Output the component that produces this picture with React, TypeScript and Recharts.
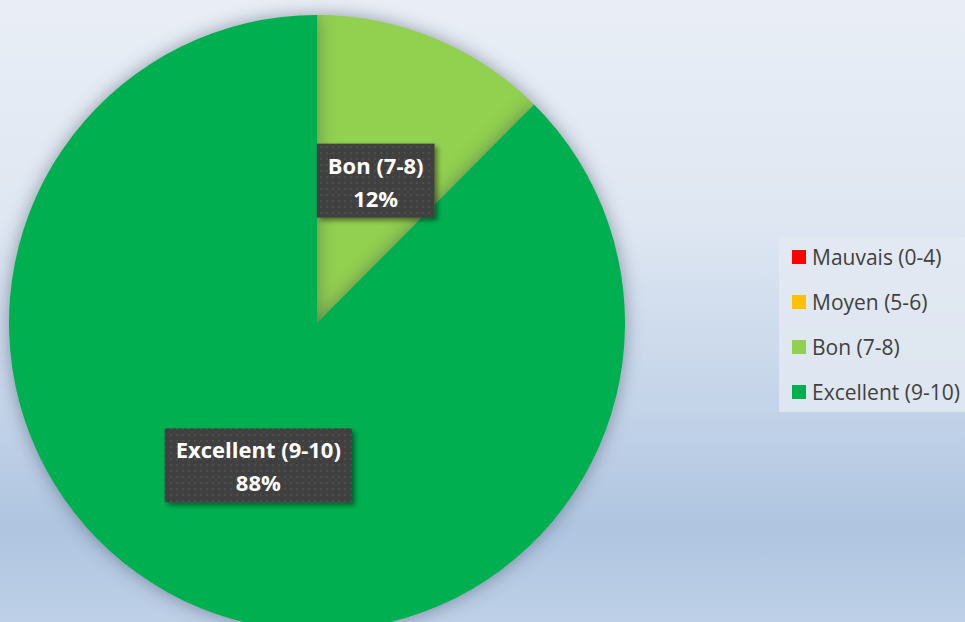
import { PieChart, Pie, Cell, Legend } from 'recharts';

const CATEGORIES = ['Mauvais (0-4)', 'Moyen (5-6)', 'Bon (7-8)', 'Excellent (9-10)'];
const SHARES = [0, 0, 12.45, 87.55];
const COLORS = ['#ff0000', '#ffc000', '#92d050', '#00b050'];

const data = CATEGORIES.map((name, i) => ({ name, value: SHARES[i] }));

const FONT = 'Open Sans';
const LABEL_SIZE = 22;
let ctx: CanvasRenderingContext2D | null = null;
const measure = (t: string) => {
  if (!ctx) ctx = document.createElement('canvas').getContext('2d');
  if (!ctx) return t.length * 11;
  ctx.font = `bold ${LABEL_SIZE}px "${FONT}"`;
  return ctx.measureText(t).width;
};

const RAD = Math.PI / 180;

const renderLabel = (p: any) => {
  if (!p.value) return null;
  const r = p.outerRadius * 0.5;
  const x = p.cx + r * Math.cos(-p.midAngle * RAD);
  const y = p.cy + r * Math.sin(-p.midAngle * RAD);
  const line2 = `${Math.round(p.percent * 100)}%`;
  const w = Math.max(measure(p.name), measure(line2)) + 22;
  const h = 74;
  return (
    <g key={p.name}>
      <rect x={x - w / 2} y={y - h / 2} width={w} height={h} fill="url(#dots)" filter="url(#boxShadow)" />
      <text x={x} y={y - 7} textAnchor="middle" fill="#fff" fontFamily={FONT} fontSize={LABEL_SIZE} fontWeight="bold">{p.name}</text>
      <text x={x} y={y + 26} textAnchor="middle" fill="#fff" fontFamily={FONT} fontSize={LABEL_SIZE} fontWeight="bold">{line2}</text>
    </g>
  );
};

const renderLegend = () => (
  <div style={{ background: 'rgba(228,234,243,0.8)', padding: '0 0 0 13px', width: 186, height: 175, boxSizing: 'border-box', overflow: 'hidden' }}>
    <div style={{ marginTop: -3 }}>
      {CATEGORIES.map((c, i) => (
        <div key={c} style={{ display: 'flex', alignItems: 'center', height: 45, fontFamily: FONT, fontSize: 21, color: '#404040', whiteSpace: 'nowrap' }}>
          <span style={{ width: 14, height: 14, background: COLORS[i], marginRight: 6, flex: 'none' }} />
          {c}
        </div>
      ))}
    </div>
  </div>
);

export default function App() {
  return (
    <div style={{ position: 'fixed', left: 0, top: 0, width: 965, height: 622, overflow: 'hidden', background: 'linear-gradient(180deg, #e9eef6 0%, #dfe7f2 35%, #c4d4e9 65%, #afc5e0 85%, #bdd0e6 100%)' }}>
      <style>{'.recharts-pie-sector{filter:drop-shadow(0 0 9px rgba(40,50,70,0.45));}'}</style>
      <PieChart width={965} height={622} margin={{ top: 0, right: 0, bottom: 0, left: 0 }}>
        <defs>
          <pattern id="dots" width="6" height="6" patternUnits="userSpaceOnUse">
            <rect width="6" height="6" fill="#404040" />
            <rect x="2" y="2" width="2" height="2" fill="#4d4d4d" />
          </pattern>
          <filter id="boxShadow" x="-20%" y="-20%" width="140%" height="140%">
            <feDropShadow dx="3" dy="3" stdDeviation="2.5" floodColor="#000" floodOpacity="0.45" />
          </filter>
        </defs>
        <Pie
          data={data}
          dataKey="value"
          nameKey="name"
          cx={317}
          cy={323}
          outerRadius={308}
          startAngle={90}
          endAngle={-270}
          stroke="none"
          labelLine={false}
          label={renderLabel}
          isAnimationActive={false}
        >
          {data.map((_, i) => (<Cell key={i} fill={COLORS[i]} />))}
        </Pie>
        <Legend layout="vertical" align="right" verticalAlign="top" content={renderLegend} wrapperStyle={{ right: 0, top: 237, left: 'auto', width: 186 }} />
      </PieChart>
    </div>
  );
}
